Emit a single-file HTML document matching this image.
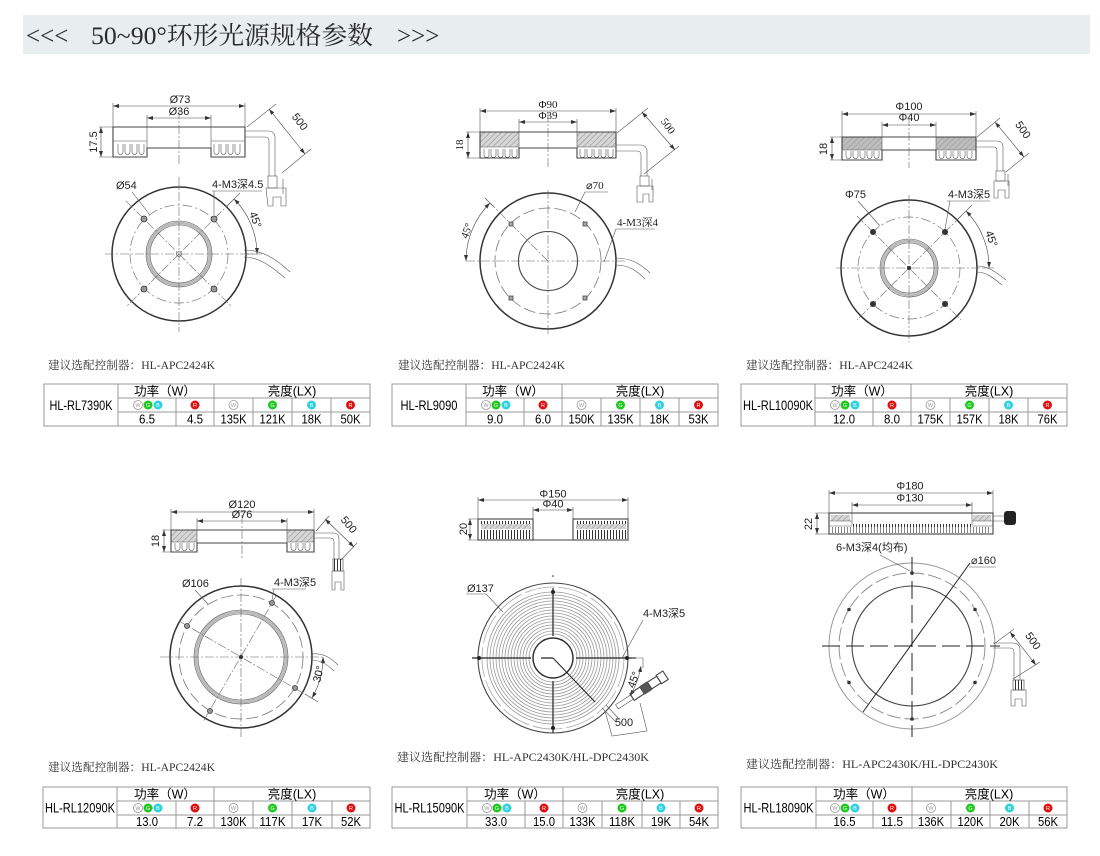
<!DOCTYPE html>
<html><head><meta charset="utf-8"><style>
html,body{margin:0;padding:0;background:#fff;}
svg{display:block}
.o{fill:none;stroke:#444;stroke-width:1.1}
.ob{fill:none;stroke:#333;stroke-width:1.5}
.t{fill:none;stroke:#555;stroke-width:0.6}
.c{fill:none;stroke:#666;stroke-width:0.6;stroke-dasharray:9 2 2 2}
.dd{fill:none;stroke:#777;stroke-width:0.7;stroke-dasharray:10 3 2 3}
.ds{fill:none;stroke:#777;stroke-width:0.8;stroke-dasharray:12 4}
.dm{fill:none;stroke:#444;stroke-width:0.6;marker-start:url(#a);marker-end:url(#a)}
.g{fill:none;stroke:#bbb;stroke-width:3}
.ls{font-family:"Liberation Sans","Noto Sans CJK SC",sans-serif;font-size:11px;fill:#222}
.lm{font-family:"Liberation Sans","Noto Sans CJK SC",sans-serif;font-size:11px;fill:#222;text-anchor:middle}
.sf{font-family:"Liberation Serif","Noto Serif CJK SC",serif;font-size:11px;fill:#222}
.cap{font-family:"Liberation Serif","Noto Serif CJK SC",serif;font-size:11.5px;fill:#333}
.tb{font-family:"Liberation Sans","Noto Sans CJK SC",sans-serif;fill:#000;text-anchor:middle}
.n{font-family:"Liberation Sans",sans-serif;fill:#000;text-anchor:middle;font-size:13px}
.dl{font-family:"Liberation Sans",sans-serif;font-size:5.5px;text-anchor:middle;fill:#fff}
.tbl{fill:none;stroke:#999;stroke-width:1}
</style></head><body>
<svg width="1100" height="856" viewBox="0 0 1100 856" xmlns="http://www.w3.org/2000/svg">
<defs>
<marker id="a" markerWidth="6" markerHeight="4" refX="6" refY="2" orient="auto-start-reverse" markerUnits="userSpaceOnUse"><path d="M0,0 L6,2 L0,4 z" fill="#333"/></marker>
<pattern id="h" width="4" height="4" patternUnits="userSpaceOnUse" patternTransform="rotate(45)"><rect width="4" height="4" fill="#d6d6d6"/><line x1="0" y1="0" x2="0" y2="4" stroke="#777" stroke-width="0.8"/></pattern>
<pattern id="h2" width="4" height="4" patternUnits="userSpaceOnUse" patternTransform="rotate(45)"><rect width="4" height="4" fill="#bdbdbd"/><line x1="0" y1="0" x2="0" y2="4" stroke="#888" stroke-width="0.8"/></pattern>
<pattern id="v" width="3" height="20" patternUnits="userSpaceOnUse"><line x1="1.5" y1="0" x2="1.5" y2="20" stroke="#333" stroke-width="1"/></pattern>
<pattern id="v2" width="3" height="20" patternUnits="userSpaceOnUse"><line x1="1.5" y1="0" x2="1.5" y2="20" stroke="#555" stroke-width="0.7"/></pattern>
</defs>

<!-- header -->
<rect x="23" y="15" width="1067" height="39" fill="#e8eeef"/>
<text x="26" y="44" font-family="Liberation Serif, serif" font-size="25" fill="#2a2a2a">&lt;&lt;&lt;</text>
<text x="91" y="44" font-family="Liberation Serif, 'Noto Serif CJK SC', serif" font-size="25" fill="#2a2a2a" textLength="282" lengthAdjust="spacingAndGlyphs">50~90°环形光源规格参数</text>
<text x="397" y="44" font-family="Liberation Serif, serif" font-size="25" fill="#2a2a2a">&gt;&gt;&gt;</text>

<!-- ================= Drawing 1 ================= -->
<path d="M113,103 V127 M245,103 V127 M147,115 V127 M211,115 V127" class="t"/>
<line x1="113" y1="106" x2="245" y2="106" class="dm"/>
<text x="180" y="103" class="lm">Ø73</text>
<line x1="147" y1="118" x2="211" y2="118" class="dm"/>
<text x="179" y="115" class="lm">Ø36</text>
<path d="M113,127 H245 V157 H211 V148 H147 V157 H113 Z" class="o"/>
<path d="M113,141 H147 M211,141 H245 M147,127 V148 M211,127 V148" class="t"/>
<path d="M118,144 v8 a2.5,2.5 0 0 0 5,0 v-8 m2,0 v8 a2.5,2.5 0 0 0 5,0 v-8 m2,0 v8 a2.5,2.5 0 0 0 5,0 v-8 m2,0 v8 a2.5,2.5 0 0 0 5,0 v-8" class="t"/>
<path d="M214,144 v8 a2.5,2.5 0 0 0 5,0 v-8 m2,0 v8 a2.5,2.5 0 0 0 5,0 v-8 m2,0 v8 a2.5,2.5 0 0 0 5,0 v-8 m2,0 v8 a2.5,2.5 0 0 0 5,0 v-8" class="t"/>
<line x1="179" y1="110" x2="179" y2="165" class="c"/>
<path d="M99,127 H113 M99,157 H113" class="t"/>
<line x1="101" y1="127" x2="101" y2="157" class="dm"/>
<text transform="translate(97,142) rotate(-90)" class="lm">17.5</text>
<path d="M245,131 H268 Q275,131 275,138 V176 M245,137 H265 Q269,137 269,141 V176" class="t"/>
<rect x="268" y="176" width="9" height="12" class="t"/>
<path d="M266,188 H286 V206 H281 V197 H273 V206 H268 Z" class="t"/>
<path d="M283,179 V194" class="t"/>
<path d="M247,127 L276,104 M282,173 L311,149" class="t"/>
<line x1="269" y1="109" x2="305" y2="154" class="dm"/>
<text transform="translate(297,124) rotate(52)" class="lm">500</text>
<!-- front -->
<circle cx="179" cy="254" r="67" class="ob"/>
<circle cx="179" cy="254" r="49" class="dd"/>
<circle cx="179" cy="254" r="31" class="g"/>
<circle cx="179" cy="254" r="29" class="t"/>
<circle cx="179" cy="254" r="33" class="t"/>
<path d="M105,254 H255 M179,177 V332 M126,201 L232,307 M232,201 L126,307" class="c"/>
<circle cx="179" cy="254" r="2.5" class="t"/>
<g fill="#999" stroke="#333" stroke-width="0.8"><circle cx="144" cy="219" r="3"/><circle cx="214" cy="219" r="3"/><circle cx="144" cy="289" r="3"/><circle cx="214" cy="289" r="3"/></g>
<text x="116" y="189" class="ls">Ø54</text>
<path d="M132,192 L150,215" class="t"/>
<text x="212" y="188" class="ls">4-M3深4.5</text>
<path d="M212,191 H262 M214,191 L214,215" class="t"/>
<path d="M234,199 A78,78 0 0 1 257,254" class="dm"/>
<path d="M226,207 L240,193 M246,254 H262" class="t"/>
<text transform="translate(252,221) rotate(70)" class="lm">45°</text>
<path d="M244,250 C262,250 275,258 290,272 M244,257 C258,257 270,265 285,278" class="t"/>

<!-- ================= Drawing 2 ================= -->
<path d="M480,108 V132 M616,108 V132 M519,119 V132 M577,119 V132" class="t"/>
<line x1="480" y1="111" x2="616" y2="111" class="dm"/>
<text x="548" y="108" class="sf" text-anchor="middle">Φ90</text>
<line x1="519" y1="122" x2="577" y2="122" class="dm"/>
<text x="548" y="119" class="sf" text-anchor="middle">Φ39</text>
<rect x="480" y="132" width="39" height="15" fill="url(#h)"/>
<rect x="577" y="132" width="39" height="15" fill="url(#h)"/>
<path d="M480,132 H616 V158 H577 V148 H519 V158 H480 Z" class="o"/>
<path d="M519,132 V148 M577,132 V148 M480,147 H519 M577,147 H616" class="t"/>
<path d="M484,149 v6 a2.5,2.5 0 0 0 5,0 v-6 m2,0 v6 a2.5,2.5 0 0 0 5,0 v-6 m2,0 v6 a2.5,2.5 0 0 0 5,0 v-6 m2,0 v6 a2.5,2.5 0 0 0 5,0 v-6 m2,0 v6 a2.5,2.5 0 0 0 5,0 v-6" class="t"/>
<path d="M580,149 v6 a2.5,2.5 0 0 0 5,0 v-6 m2,0 v6 a2.5,2.5 0 0 0 5,0 v-6 m2,0 v6 a2.5,2.5 0 0 0 5,0 v-6 m2,0 v6 a2.5,2.5 0 0 0 5,0 v-6 m2,0 v6 a2.5,2.5 0 0 0 5,0 v-6" class="t"/>
<path d="M466,132 H480 M466,158 H480" class="t"/>
<line x1="468" y1="132" x2="468" y2="158" class="dm"/>
<text transform="translate(463,145) rotate(-90)" class="sf" text-anchor="middle">18</text>
<line x1="548" y1="113" x2="548" y2="168" class="c"/>
<path d="M616,145 H640 Q647,145 647,152 V176 M616,151 H637 Q641,151 641,155 V176" class="t"/>
<rect x="640" y="176" width="9" height="10" class="t"/>
<path d="M637,186 H653 V202 H649 V194 H643 V202 H637 Z" class="t"/>
<path d="M652,179 V190" class="t"/>
<path d="M617,133 L648,108 M644,174 L679,146" class="t"/>
<line x1="642" y1="112" x2="675" y2="150" class="dm"/>
<text transform="translate(665,128) rotate(55)" class="sf" text-anchor="middle">500</text>
<!-- front -->
<circle cx="548" cy="261" r="68" class="ob"/>
<circle cx="548" cy="261" r="53" class="ds"/>
<circle cx="548" cy="261" r="29.5" class="o"/>
<path d="M466,261 H625 M548,190 V334 M548,261 L490,203" class="c"/>
<g fill="#aaa" stroke="#333" stroke-width="0.7"><rect x="509" y="222" width="4" height="4"/><rect x="583" y="222" width="4" height="4"/><rect x="509" y="296" width="4" height="4"/><rect x="583" y="296" width="4" height="4"/></g>
<text x="586" y="189" class="sf">⌀70</text>
<path d="M585,192 H608 M585,192 L575,212" class="t"/>
<text x="617" y="226" class="sf">4-M3深4</text>
<path d="M616,229 H655 M616,229 L604,262" class="t"/>
<path d="M466,261 A82,82 0 0 1 490,203" class="dm"/>
<path d="M494,207 L485,198" class="t"/>
<text transform="translate(470,232) rotate(-70)" class="sf" text-anchor="middle">45°</text>
<path d="M615,258 C630,258 640,263 650,273 M615,265 C628,265 636,270 645,279" class="t"/>

<!-- ================= Drawing 3 ================= -->
<path d="M842,111 V137 M976,111 V137 M882,122 V137 M936,122 V137" class="t"/>
<line x1="842" y1="114" x2="976" y2="114" class="dm"/>
<text x="909" y="110" class="lm">Φ100</text>
<line x1="882" y1="125" x2="936" y2="125" class="dm"/>
<text x="909" y="121" class="lm">Φ40</text>
<rect x="842" y="137" width="40" height="13" fill="url(#h2)"/>
<rect x="936" y="137" width="40" height="13" fill="url(#h2)"/>
<path d="M842,137 H976 V160 H936 V150 H882 V160 H842 Z" class="o"/>
<path d="M882,137 V150 M936,137 V150 M842,150 H882 M936,150 H976" class="t"/>
<path d="M846,151 v5 a2.5,2.5 0 0 0 5,0 v-5 m2,0 v5 a2.5,2.5 0 0 0 5,0 v-5 m2,0 v5 a2.5,2.5 0 0 0 5,0 v-5 m2,0 v5 a2.5,2.5 0 0 0 5,0 v-5 m2,0 v5 a2.5,2.5 0 0 0 5,0 v-5" class="t"/>
<path d="M939,151 v5 a2.5,2.5 0 0 0 5,0 v-5 m2,0 v5 a2.5,2.5 0 0 0 5,0 v-5 m2,0 v5 a2.5,2.5 0 0 0 5,0 v-5 m2,0 v5 a2.5,2.5 0 0 0 5,0 v-5 m2,0 v5 a2.5,2.5 0 0 0 5,0 v-5" class="t"/>
<path d="M830,137 H842 M830,160 H842" class="t"/>
<line x1="832" y1="137" x2="832" y2="160" class="dm"/>
<text transform="translate(827,149) rotate(-90)" class="lm">18</text>
<line x1="909" y1="117" x2="909" y2="168" class="c"/>
<path d="M976,141 H997 Q1003,141 1003,147 V171 M976,147 H994 Q997,147 997,151 V171" class="t"/>
<rect x="996" y="171" width="9" height="10" class="t"/>
<path d="M994,181 H1009 V198 H1005 V190 H998 V198 H994 Z" class="t"/>
<path d="M1008,174 V186" class="t"/>
<path d="M977,137 L1000,118 M1006,172 L1029,153" class="t"/>
<line x1="995" y1="122" x2="1024" y2="157" class="dm"/>
<text transform="translate(1020,132) rotate(55)" class="lm">500</text>
<!-- front -->
<circle cx="909" cy="268" r="68" class="ob"/>
<circle cx="909" cy="268" r="51" class="dd"/>
<circle cx="909" cy="268" r="27" class="g"/>
<circle cx="909" cy="268" r="25" class="t"/>
<circle cx="909" cy="268" r="29" class="t"/>
<path d="M836,268 H984 M909,195 V342 M857,216 L961,320 M961,216 L857,320" class="c"/>
<circle cx="909" cy="268" r="2" fill="#333"/>
<g fill="#333"><circle cx="873" cy="232" r="3"/><circle cx="945" cy="232" r="3"/><circle cx="873" cy="304" r="3"/><circle cx="945" cy="304" r="3"/></g>
<text x="845" y="198" class="ls">Φ75</text>
<path d="M858,201 L880,226" class="t"/>
<text x="948" y="198" class="ls">4-M3深5</text>
<path d="M947,201 H990 M950,201 L945,229" class="t"/>
<path d="M966,211 A80,80 0 0 1 989,268" class="dm"/>
<path d="M958,219 L972,205 M984,268 H994" class="t"/>
<text transform="translate(988,240) rotate(70)" class="lm">45°</text>
<path d="M977,266 C988,266 996,272 1006,280 M977,272 C986,272 992,277 1002,285" class="t"/>

<!-- ================= Drawing 4 ================= -->
<path d="M171,509 V530 M314,509 V530 M197,518 V530 M287,518 V530" class="t"/>
<line x1="171" y1="512" x2="314" y2="512" class="dm"/>
<text x="242" y="508" class="lm" font-size="10">Ø120</text>
<line x1="197" y1="521" x2="287" y2="521" class="dm"/>
<text x="242" y="518" class="lm" font-size="10">Ø76</text>
<rect x="171" y="530" width="26" height="12" fill="url(#h)"/>
<rect x="287" y="530" width="27" height="12" fill="url(#h)"/>
<path d="M171,530 H314 V552 H287 V543 H197 V552 H171 Z" class="o"/>
<path d="M197,530 V543 M287,530 V543 M171,542 H197 M287,542 H314" class="t"/>
<path d="M175,543 v5 a2.5,2.5 0 0 0 5,0 v-5 m2,0 v5 a2.5,2.5 0 0 0 5,0 v-5 m2,0 v5 a2.5,2.5 0 0 0 5,0 v-5" class="t"/>
<path d="M291,543 v5 a2.5,2.5 0 0 0 5,0 v-5 m2,0 v5 a2.5,2.5 0 0 0 5,0 v-5 m2,0 v5 a2.5,2.5 0 0 0 5,0 v-5" class="t"/>
<path d="M162,530 H171 M162,552 H171" class="t"/>
<line x1="164" y1="530" x2="164" y2="552" class="dm"/>
<text transform="translate(159,541) rotate(-90)" class="lm" font-size="10">18</text>
<line x1="242" y1="515" x2="242" y2="560" class="c"/>
<path d="M314,533 H333 Q339,533 339,539 V559 M314,538 H330 Q334,538 334,542 V559" class="t"/>
<rect x="333" y="559" width="10" height="12" fill="url(#v)" stroke="#444" stroke-width="0.6"/>
<path d="M332,571 H344 V590 H341 V582 H335 V590 H332 Z" class="t"/>
<path d="M316,531 L329,516 M341,560 L357,543" class="t"/>
<line x1="325" y1="519" x2="354" y2="547" class="dm"/>
<text transform="translate(346,527) rotate(50)" class="lm" font-size="10">500</text>
<!-- front -->
<circle cx="241" cy="657" r="71" class="ob"/>
<circle cx="241" cy="657" r="62" class="ds"/>
<circle cx="241" cy="657" r="45" class="g"/>
<circle cx="241" cy="657" r="43" class="t"/>
<circle cx="241" cy="657" r="47" class="t"/>
<path d="M160,657 H322 M241,578 V738 M179,621 L315,700 M276,596 L203,722" class="c"/>
<circle cx="241" cy="657" r="2" fill="#333"/>
<g fill="#999" stroke="#333" stroke-width="0.8"><circle cx="187" cy="626" r="2.5"/><circle cx="272" cy="603" r="2.5"/><circle cx="295" cy="688" r="2.5"/><circle cx="210" cy="711" r="2.5"/></g>
<text x="182" y="587" class="ls" font-size="10">Ø106</text>
<path d="M195,590 L208,604" class="t"/>
<text x="274" y="586" class="ls" font-size="10">4-M3深5</text>
<path d="M272,589 H306 M274,589 L272,600" class="t"/>
<path d="M323,657 A82,82 0 0 1 312,698" class="dm"/>
<path d="M305,694 L318,702" class="t"/>
<text transform="translate(322,675) rotate(-75)" class="lm" font-size="10">30°</text>
<path d="M311,654 C323,653 330,657 338,665 M311,660 C320,660 327,664 334,671" class="t"/>

<!-- ================= Drawing 5 ================= -->
<path d="M478,497 V519 M628,497 V519 M533,507 V540 M573,507 V540" class="t"/>
<line x1="478" y1="500" x2="628" y2="500" class="dm"/>
<text x="553" y="497.5" class="lm" font-size="6.5">Φ150</text>
<line x1="533" y1="510" x2="573" y2="510" class="dm"/>
<text x="553" y="507.5" class="lm" font-size="6.5">Φ40</text>
<rect x="481" y="521" width="50" height="3" fill="url(#v)"/>
<rect x="481" y="524" width="50" height="5" fill="url(#h)"/>
<rect x="481" y="530" width="50" height="9" fill="url(#v)"/>
<rect x="576" y="521" width="50" height="3" fill="url(#v)"/>
<rect x="576" y="524" width="50" height="5" fill="url(#h)"/>
<rect x="576" y="530" width="50" height="9" fill="url(#v)"/>
<rect x="478" y="519" width="55" height="21" class="o"/>
<rect x="573" y="519" width="55" height="21" class="o"/>
<path d="M533,540 H573" class="o"/>
<path d="M468,519 H478 M468,540 H478" class="t"/>
<line x1="470" y1="519" x2="470" y2="540" class="dm"/>
<text transform="translate(467,529) rotate(-90)" class="lm" font-size="7">20</text>
<!-- front -->
<circle cx="553" cy="658" r="75" class="o"/>
<circle cx="553" cy="658" r="71" fill="none" stroke="#aaa" stroke-width="0.8" stroke-dasharray="30 4"/>
<g fill="none" stroke="#999" stroke-width="0.8">
<circle cx="553" cy="658" r="24"/><circle cx="553" cy="658" r="27"/><circle cx="553" cy="658" r="30"/><circle cx="553" cy="658" r="33"/><circle cx="553" cy="658" r="36"/><circle cx="553" cy="658" r="39"/><circle cx="553" cy="658" r="42"/><circle cx="553" cy="658" r="45"/><circle cx="553" cy="658" r="48"/><circle cx="553" cy="658" r="51"/><circle cx="553" cy="658" r="54"/><circle cx="553" cy="658" r="57"/><circle cx="553" cy="658" r="60"/><circle cx="553" cy="658" r="63"/><circle cx="553" cy="658" r="66"/>
</g>
<circle cx="553" cy="658" r="20" fill="#fff" class="ob"/>
<path d="M472,658 H531 M576,658 H636 M553,588 V636 M553,681 V733 M541,658 H553" stroke="#222" stroke-width="1.2" fill="none"/>
<path d="M553,658 L595,702" stroke="#222" stroke-width="1" fill="none"/>
<g fill="#222"><circle cx="479" cy="658" r="2"/><circle cx="627" cy="658" r="2"/><circle cx="553" cy="592" r="2"/><circle cx="553" cy="728" r="2"/><circle cx="553" cy="576" r="0.8"/></g>
<text x="467" y="592" class="ls" font-size="6.5">Ø137</text>
<path d="M466,594 H486 L503,612" class="t"/>
<text x="643" y="617" class="ls" font-size="6">4-M3深5</text>
<path d="M643,620 L622,658" class="t"/>
<path d="M632,658 H643 V668" class="t"/>
<path d="M641,666 A88,88 0 0 1 630,696" class="dm"/>
<text transform="translate(637,681) rotate(-70)" class="lm" font-size="6">45°</text>
<path d="M602,708 L616,722 M606,705 L619,719" class="t"/>
<g transform="translate(632,697) rotate(-33)">
<rect x="-18" y="-2.5" width="18" height="5" class="t"/>
<rect x="0" y="-4" width="12" height="8" class="o"/>
<rect x="12" y="-5" width="9" height="10" fill="#555"/>
<rect x="21" y="-4" width="11" height="8" class="o"/>
<rect x="32" y="-5" width="8" height="10" class="o"/>
</g>
<path d="M605,711 L612,736 L647,731 L640,703" class="t"/>
<text x="624" y="726" class="lm" font-size="6">500</text>

<!-- ================= Drawing 6 ================= -->
<path d="M829,490 V513 M993,490 V513 M852,502 V525 M972,502 V525" class="t"/>
<line x1="829" y1="493" x2="993" y2="493" class="dm"/>
<text x="910" y="489.5" class="lm" font-size="9">Φ180</text>
<line x1="852" y1="505" x2="972" y2="505" class="dm"/>
<text x="910" y="501.5" class="lm" font-size="10">Φ130</text>
<rect x="831" y="515" width="19" height="6" fill="url(#h)"/>
<rect x="973" y="515" width="18" height="6" fill="url(#h)"/>
<rect x="852" y="524" width="120" height="3" fill="url(#v)"/>
<rect x="832" y="527" width="158" height="6" fill="url(#v2)"/>
<rect x="829" y="513" width="164" height="21" class="o"/>
<path d="M829,526 H852 M972,526 H993 M829,521 H852 M972,521 H993" class="t"/>
<path d="M815,513 H829 M815,534 H829" class="t"/>
<line x1="817" y1="513" x2="817" y2="534" class="dm"/>
<text transform="translate(812,524) rotate(-90)" class="lm" font-size="10">22</text>
<path d="M993,516 H1005 M993,521 H1005" class="t"/>
<rect x="1004" y="511" width="12" height="14" rx="3" fill="#222"/>
<!-- front -->
<circle cx="912" cy="646" r="83" fill="none" stroke="#999" stroke-width="1"/>
<circle cx="912" cy="646" r="73" fill="none" stroke="#888" stroke-width="0.9" stroke-dasharray="14 4"/>
<circle cx="912" cy="646" r="60" class="o"/>
<path d="M822,646 H1000 M912,557 V737" stroke="#222" stroke-width="1" stroke-dasharray="18 6" fill="none"/>
<g fill="#333"><circle cx="912" cy="573" r="1.8"/><circle cx="975" cy="609.5" r="1.8"/><circle cx="975" cy="682.5" r="1.8"/><circle cx="912" cy="719" r="1.8"/><circle cx="849" cy="682.5" r="1.8"/><circle cx="849" cy="609.5" r="1.8"/></g>
<path d="M863,712 L970,563" stroke="#222" stroke-width="1" fill="none"/>
<text x="971" y="564" class="ls" font-size="10">⌀160</text>
<path d="M969,567 H996" class="t"/>
<text x="836" y="551" class="ls" font-size="10">6-M3深4(均布)</text>
<path d="M880,555 L910,571" class="t"/>
<path d="M993,643 H1013 Q1020,643 1020,650 V680 M993,648 H1010 Q1014,648 1014,652 V680" class="t"/>
<rect x="1013" y="680" width="11" height="10" fill="url(#v)" stroke="#444" stroke-width="0.6"/>
<path d="M1011,690 H1026 V706 H1022 V699 H1015 V706 H1011 Z" class="t"/>
<path d="M994,644 L1014,629 M1013,679 L1040,662" class="t"/>
<line x1="1010" y1="632" x2="1036" y2="665" class="dm"/>
<text transform="translate(1030,643) rotate(55)" class="lm">500</text>

<!-- ================= captions ================= -->
<text x="48" y="369" class="cap" textLength="167" lengthAdjust="spacingAndGlyphs">建议选配控制器：HL-APC2424K</text>
<text x="398" y="369" class="cap" textLength="167" lengthAdjust="spacingAndGlyphs">建议选配控制器：HL-APC2424K</text>
<text x="746" y="369" class="cap" textLength="167" lengthAdjust="spacingAndGlyphs">建议选配控制器：HL-APC2424K</text>
<text x="48" y="771" class="cap" textLength="167" lengthAdjust="spacingAndGlyphs">建议选配控制器：HL-APC2424K</text>
<text x="397" y="761" class="cap" textLength="252" lengthAdjust="spacingAndGlyphs">建议选配控制器：HL-APC2430K/HL-DPC2430K</text>
<text x="746" y="768" class="cap" textLength="252" lengthAdjust="spacingAndGlyphs">建议选配控制器：HL-APC2430K/HL-DPC2430K</text>

<!-- ================= tables ================= -->
<!-- T1 -->
<g transform="translate(44,384)">
<rect x="0" y="0" width="326" height="42" class="tbl"/>
<path d="M74,0V42 M170,0V42 M74,14H326 M74,28H326 M132,14V42 M209,14V42 M248,14V42 M287,14V42" class="tbl"/>
<text x="37" y="26" class="tb" font-size="13.5" textLength="63" lengthAdjust="spacingAndGlyphs">HL-RL7390K</text>
<text x="121" y="11.5" class="tb" font-size="12.5">功率（W）</text>
<text x="248" y="11.5" class="tb" font-size="12.5">亮度(LX)</text>
<circle cx="94" cy="21" r="4.5" fill="#fff" stroke="#999" stroke-width=".8"/><text x="94" y="23" class="dl" style="fill:#999">W</text>
<circle cx="104" cy="21" r="4.5" fill="#1ec81e"/><text x="104" y="23" class="dl">G</text>
<circle cx="114" cy="21" r="4.5" fill="#2fd0e0"/><text x="114" y="23" class="dl">B</text>
<circle cx="151" cy="21" r="4.5" fill="#e01010"/><text x="151" y="23" class="dl">R</text>
<circle cx="189.5" cy="21" r="4.5" fill="#fff" stroke="#999" stroke-width=".8"/><text x="189.5" y="23" class="dl" style="fill:#999">W</text>
<circle cx="228.5" cy="21" r="4.5" fill="#1ec81e"/><text x="228.5" y="23" class="dl">G</text>
<circle cx="267.5" cy="21" r="4.5" fill="#2fd0e0"/><text x="267.5" y="23" class="dl">B</text>
<circle cx="306.5" cy="21" r="4.5" fill="#e01010"/><text x="306.5" y="23" class="dl">R</text>
<text x="103" y="39.5" class="n" textLength="16" lengthAdjust="spacingAndGlyphs">6.5</text>
<text x="151" y="39.5" class="n" textLength="16" lengthAdjust="spacingAndGlyphs">4.5</text>
<text x="189.5" y="39.5" class="n" textLength="26" lengthAdjust="spacingAndGlyphs">135K</text>
<text x="228.5" y="39.5" class="n" textLength="26" lengthAdjust="spacingAndGlyphs">121K</text>
<text x="267.5" y="39.5" class="n" textLength="20" lengthAdjust="spacingAndGlyphs">18K</text>
<text x="306.5" y="39.5" class="n" textLength="20" lengthAdjust="spacingAndGlyphs">50K</text>
</g>
<!-- T2 -->
<g transform="translate(392,384)">
<rect x="0" y="0" width="326" height="42" class="tbl"/>
<path d="M74,0V42 M170,0V42 M74,14H326 M74,28H326 M132,14V42 M209,14V42 M248,14V42 M287,14V42" class="tbl"/>
<text x="37" y="26" class="tb" font-size="13.5" textLength="57" lengthAdjust="spacingAndGlyphs">HL-RL9090</text>
<text x="121" y="11.5" class="tb" font-size="12.5">功率（W）</text>
<text x="248" y="11.5" class="tb" font-size="12.5">亮度(LX)</text>
<circle cx="94" cy="21" r="4.5" fill="#fff" stroke="#999" stroke-width=".8"/><text x="94" y="23" class="dl" style="fill:#999">W</text>
<circle cx="104" cy="21" r="4.5" fill="#1ec81e"/><text x="104" y="23" class="dl">G</text>
<circle cx="114" cy="21" r="4.5" fill="#2fd0e0"/><text x="114" y="23" class="dl">B</text>
<circle cx="151" cy="21" r="4.5" fill="#e01010"/><text x="151" y="23" class="dl">R</text>
<circle cx="189.5" cy="21" r="4.5" fill="#fff" stroke="#999" stroke-width=".8"/><text x="189.5" y="23" class="dl" style="fill:#999">W</text>
<circle cx="228.5" cy="21" r="4.5" fill="#1ec81e"/><text x="228.5" y="23" class="dl">G</text>
<circle cx="267.5" cy="21" r="4.5" fill="#2fd0e0"/><text x="267.5" y="23" class="dl">B</text>
<circle cx="306.5" cy="21" r="4.5" fill="#e01010"/><text x="306.5" y="23" class="dl">R</text>
<text x="103" y="39.5" class="n" textLength="16" lengthAdjust="spacingAndGlyphs">9.0</text>
<text x="151" y="39.5" class="n" textLength="16" lengthAdjust="spacingAndGlyphs">6.0</text>
<text x="189.5" y="39.5" class="n" textLength="26" lengthAdjust="spacingAndGlyphs">150K</text>
<text x="228.5" y="39.5" class="n" textLength="26" lengthAdjust="spacingAndGlyphs">135K</text>
<text x="267.5" y="39.5" class="n" textLength="20" lengthAdjust="spacingAndGlyphs">18K</text>
<text x="306.5" y="39.5" class="n" textLength="20" lengthAdjust="spacingAndGlyphs">53K</text>
</g>
<!-- T3 -->
<g transform="translate(741,384)">
<rect x="0" y="0" width="326" height="42" class="tbl"/>
<path d="M74,0V42 M170,0V42 M74,14H326 M74,28H326 M132,14V42 M209,14V42 M248,14V42 M287,14V42" class="tbl"/>
<text x="37" y="26" class="tb" font-size="13.5" textLength="70" lengthAdjust="spacingAndGlyphs">HL-RL10090K</text>
<text x="121" y="11.5" class="tb" font-size="12.5">功率（W）</text>
<text x="248" y="11.5" class="tb" font-size="12.5">亮度(LX)</text>
<circle cx="94" cy="21" r="4.5" fill="#fff" stroke="#999" stroke-width=".8"/><text x="94" y="23" class="dl" style="fill:#999">W</text>
<circle cx="104" cy="21" r="4.5" fill="#1ec81e"/><text x="104" y="23" class="dl">G</text>
<circle cx="114" cy="21" r="4.5" fill="#2fd0e0"/><text x="114" y="23" class="dl">B</text>
<circle cx="151" cy="21" r="4.5" fill="#e01010"/><text x="151" y="23" class="dl">R</text>
<circle cx="189.5" cy="21" r="4.5" fill="#fff" stroke="#999" stroke-width=".8"/><text x="189.5" y="23" class="dl" style="fill:#999">W</text>
<circle cx="228.5" cy="21" r="4.5" fill="#1ec81e"/><text x="228.5" y="23" class="dl">G</text>
<circle cx="267.5" cy="21" r="4.5" fill="#2fd0e0"/><text x="267.5" y="23" class="dl">B</text>
<circle cx="306.5" cy="21" r="4.5" fill="#e01010"/><text x="306.5" y="23" class="dl">R</text>
<text x="103" y="39.5" class="n" textLength="22" lengthAdjust="spacingAndGlyphs">12.0</text>
<text x="151" y="39.5" class="n" textLength="16" lengthAdjust="spacingAndGlyphs">8.0</text>
<text x="189.5" y="39.5" class="n" textLength="26" lengthAdjust="spacingAndGlyphs">175K</text>
<text x="228.5" y="39.5" class="n" textLength="26" lengthAdjust="spacingAndGlyphs">157K</text>
<text x="267.5" y="39.5" class="n" textLength="20" lengthAdjust="spacingAndGlyphs">18K</text>
<text x="306.5" y="39.5" class="n" textLength="20" lengthAdjust="spacingAndGlyphs">76K</text>
</g>
<!-- T4 -->
<g transform="translate(43,787)">
<rect x="0" y="0" width="327" height="41" class="tbl"/>
<path d="M74,0V41 M171,0V41 M74,14H327 M74,28H327 M133,14V41 M210,14V41 M249,14V41 M289,14V41" class="tbl"/>
<text x="37" y="25.5" class="tb" font-size="13.5" textLength="70" lengthAdjust="spacingAndGlyphs">HL-RL12090K</text>
<text x="122" y="11.5" class="tb" font-size="12.5">功率（W）</text>
<text x="249" y="11.5" class="tb" font-size="12.5">亮度(LX)</text>
<circle cx="95" cy="21" r="4.5" fill="#fff" stroke="#999" stroke-width=".8"/><text x="95" y="23" class="dl" style="fill:#999">W</text>
<circle cx="105" cy="21" r="4.5" fill="#1ec81e"/><text x="105" y="23" class="dl">G</text>
<circle cx="115" cy="21" r="4.5" fill="#2fd0e0"/><text x="115" y="23" class="dl">B</text>
<circle cx="152" cy="21" r="4.5" fill="#e01010"/><text x="152" y="23" class="dl">R</text>
<circle cx="190.5" cy="21" r="4.5" fill="#fff" stroke="#999" stroke-width=".8"/><text x="190.5" y="23" class="dl" style="fill:#999">W</text>
<circle cx="229.5" cy="21" r="4.5" fill="#1ec81e"/><text x="229.5" y="23" class="dl">G</text>
<circle cx="269" cy="21" r="4.5" fill="#2fd0e0"/><text x="269" y="23" class="dl">B</text>
<circle cx="308" cy="21" r="4.5" fill="#e01010"/><text x="308" y="23" class="dl">R</text>
<text x="104" y="39" class="n" textLength="22" lengthAdjust="spacingAndGlyphs">13.0</text>
<text x="152" y="39" class="n" textLength="16" lengthAdjust="spacingAndGlyphs">7.2</text>
<text x="190.5" y="39" class="n" textLength="26" lengthAdjust="spacingAndGlyphs">130K</text>
<text x="229.5" y="39" class="n" textLength="26" lengthAdjust="spacingAndGlyphs">117K</text>
<text x="269" y="39" class="n" textLength="20" lengthAdjust="spacingAndGlyphs">17K</text>
<text x="308" y="39" class="n" textLength="20" lengthAdjust="spacingAndGlyphs">52K</text>
</g>
<!-- T5 -->
<g transform="translate(392,787)">
<rect x="0" y="0" width="326" height="41" class="tbl"/>
<path d="M75,0V41 M171,0V41 M75,14H326 M75,28H326 M133,14V41 M210,14V41 M250,14V41 M288,14V41" class="tbl"/>
<text x="37.5" y="25.5" class="tb" font-size="13.5" textLength="70" lengthAdjust="spacingAndGlyphs">HL-RL15090K</text>
<text x="123" y="11.5" class="tb" font-size="12.5">功率（W）</text>
<text x="248" y="11.5" class="tb" font-size="12.5">亮度(LX)</text>
<circle cx="95" cy="21" r="4.5" fill="#fff" stroke="#999" stroke-width=".8"/><text x="95" y="23" class="dl" style="fill:#999">W</text>
<circle cx="105" cy="21" r="4.5" fill="#1ec81e"/><text x="105" y="23" class="dl">G</text>
<circle cx="115" cy="21" r="4.5" fill="#2fd0e0"/><text x="115" y="23" class="dl">B</text>
<circle cx="152" cy="21" r="4.5" fill="#e01010"/><text x="152" y="23" class="dl">R</text>
<circle cx="190.5" cy="21" r="4.5" fill="#fff" stroke="#999" stroke-width=".8"/><text x="190.5" y="23" class="dl" style="fill:#999">W</text>
<circle cx="230" cy="21" r="4.5" fill="#1ec81e"/><text x="230" y="23" class="dl">G</text>
<circle cx="269" cy="21" r="4.5" fill="#2fd0e0"/><text x="269" y="23" class="dl">B</text>
<circle cx="307" cy="21" r="4.5" fill="#e01010"/><text x="307" y="23" class="dl">R</text>
<text x="104" y="39" class="n" textLength="22" lengthAdjust="spacingAndGlyphs">33.0</text>
<text x="152" y="39" class="n" textLength="22" lengthAdjust="spacingAndGlyphs">15.0</text>
<text x="190.5" y="39" class="n" textLength="26" lengthAdjust="spacingAndGlyphs">133K</text>
<text x="230" y="39" class="n" textLength="26" lengthAdjust="spacingAndGlyphs">118K</text>
<text x="269" y="39" class="n" textLength="20" lengthAdjust="spacingAndGlyphs">19K</text>
<text x="307" y="39" class="n" textLength="20" lengthAdjust="spacingAndGlyphs">54K</text>
</g>
<!-- T6 -->
<g transform="translate(741,787)">
<rect x="0" y="0" width="326" height="41" class="tbl"/>
<path d="M75,0V41 M171,0V41 M75,14H326 M75,28H326 M132,14V41 M210,14V41 M249,14V41 M288,14V41" class="tbl"/>
<text x="37.5" y="25.5" class="tb" font-size="13.5" textLength="70" lengthAdjust="spacingAndGlyphs">HL-RL18090K</text>
<text x="123" y="11.5" class="tb" font-size="12.5">功率（W）</text>
<text x="248" y="11.5" class="tb" font-size="12.5">亮度(LX)</text>
<circle cx="94" cy="21" r="4.5" fill="#fff" stroke="#999" stroke-width=".8"/><text x="94" y="23" class="dl" style="fill:#999">W</text>
<circle cx="104" cy="21" r="4.5" fill="#1ec81e"/><text x="104" y="23" class="dl">G</text>
<circle cx="114" cy="21" r="4.5" fill="#2fd0e0"/><text x="114" y="23" class="dl">B</text>
<circle cx="151" cy="21" r="4.5" fill="#e01010"/><text x="151" y="23" class="dl">R</text>
<circle cx="190" cy="21" r="4.5" fill="#fff" stroke="#999" stroke-width=".8"/><text x="190" y="23" class="dl" style="fill:#999">W</text>
<circle cx="229.5" cy="21" r="4.5" fill="#1ec81e"/><text x="229.5" y="23" class="dl">G</text>
<circle cx="268.5" cy="21" r="4.5" fill="#2fd0e0"/><text x="268.5" y="23" class="dl">B</text>
<circle cx="307" cy="21" r="4.5" fill="#e01010"/><text x="307" y="23" class="dl">R</text>
<text x="103.5" y="39" class="n" textLength="22" lengthAdjust="spacingAndGlyphs">16.5</text>
<text x="151" y="39" class="n" textLength="22" lengthAdjust="spacingAndGlyphs">11.5</text>
<text x="190" y="39" class="n" textLength="26" lengthAdjust="spacingAndGlyphs">136K</text>
<text x="229.5" y="39" class="n" textLength="26" lengthAdjust="spacingAndGlyphs">120K</text>
<text x="268.5" y="39" class="n" textLength="20" lengthAdjust="spacingAndGlyphs">20K</text>
<text x="307" y="39" class="n" textLength="20" lengthAdjust="spacingAndGlyphs">56K</text>
</g>
</svg>
</body></html>
